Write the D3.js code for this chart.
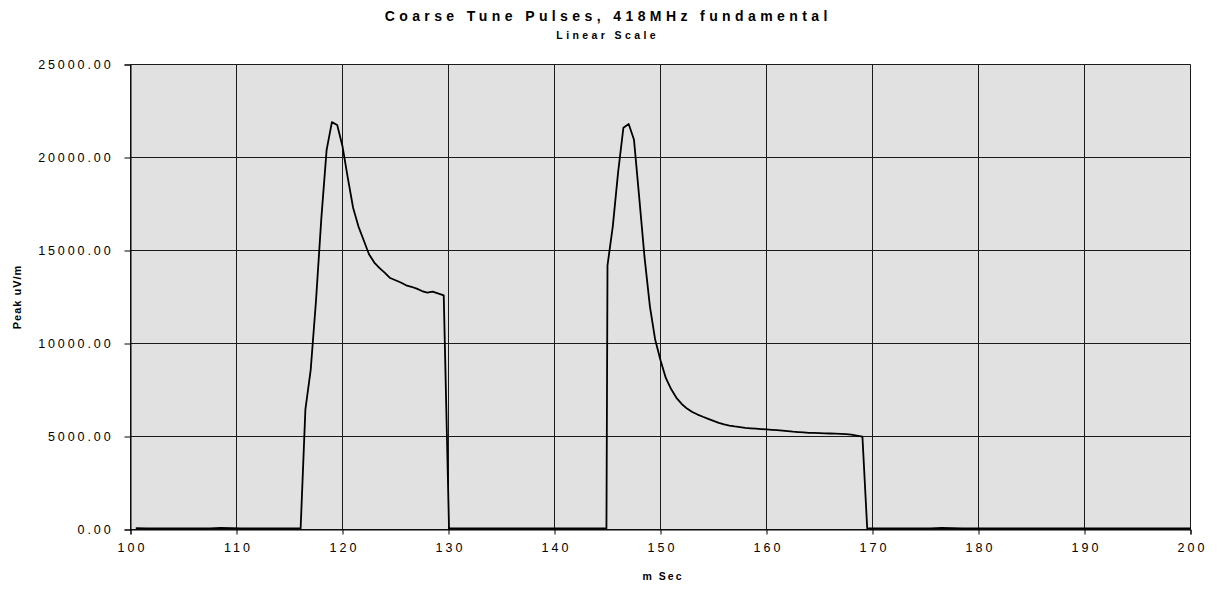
<!DOCTYPE html>
<html>
<head>
<meta charset="utf-8">
<script src="https://cdn.jsdelivr.net/npm/d3@7"></script>
<style>
  body { margin: 0; background: #fff; }
  text { font-family: Arial, "Liberation Sans", sans-serif; fill: #000; }
</style>
</head>
<body>
<div id="chart"></div>
<script>
// données (m Sec / Peak uV/m)
const calme1Temps = [100.5, 101.5, 102.5, 103.5, 104.5, 105.5, 106.5, 107.5, 108.5, 109.5, 110.5, 111.5, 112.5, 113.5, 114.5, 115.5, 116.05];
const calme1Valeurs = [70, 60, 65, 60, 65, 60, 65, 60, 90, 70, 60, 60, 65, 60, 60, 60, 60];

const pulse1Temps = [116.5, 117.0, 117.5, 118.0, 118.5, 119.0, 119.5, 120.0, 120.5, 121.0, 121.5, 122.0, 122.5, 123.0, 123.5, 124.0, 124.5, 125.0, 125.5, 126.0, 126.5, 127.0, 127.5, 128.0, 128.5, 129.0, 129.55];
const pulse1Valeurs = [6460, 8580, 12300, 16700, 20400, 21900, 21750, 20600, 18900, 17300, 16300, 15550, 14800, 14350, 14050, 13800, 13520, 13400, 13280, 13130, 13050, 12950, 12820, 12730, 12790, 12690, 12590];

const calme2Temps = [130.05, 131, 132, 133, 134, 135, 136, 137, 138, 139, 140, 141, 142, 143, 144, 144.9];
const calme2Valeurs = [60, 65, 60, 60, 65, 60, 60, 65, 60, 60, 65, 60, 60, 60, 60, 60];

const pulse2Temps = [145.0, 145.5, 146.0, 146.5, 147.0, 147.5, 148.0, 148.5, 149.0, 149.5, 150.0, 150.5, 151.0, 151.5, 152.0, 152.5, 153.0, 153.5, 154.0, 154.5, 155.0, 155.5, 156.0, 156.5, 157.0, 157.5, 158.0, 158.5, 159.0, 159.5, 160.0, 160.5, 161.0, 161.5, 162.0, 162.5, 163.0, 163.5, 164.0, 164.5, 165.0, 165.5, 166.0, 166.5, 167.0, 167.5, 168.0, 168.5, 169.05];
const pulse2Valeurs = [14200, 16300, 19200, 21600, 21800, 20950, 17800, 14600, 12000, 10200, 9100, 8150, 7550, 7080, 6750, 6500, 6320, 6180, 6060, 5950, 5840, 5730, 5650, 5590, 5540, 5500, 5460, 5440, 5420, 5400, 5380, 5360, 5340, 5320, 5290, 5260, 5240, 5220, 5200, 5190, 5180, 5170, 5160, 5150, 5140, 5130, 5100, 5050, 4990];

const calme3Temps = [169.5, 170.5, 171.5, 172.5, 173.5, 174.5, 175.5, 176.5, 177.5, 178.5, 179.5, 180.5, 181.5, 182.5, 183.5, 184.5, 185.5, 186.5, 187.5, 188.5, 189.5, 190.5, 191.5, 192.5, 193.5, 194.5, 195.5, 196.5, 197.5, 198.5, 199.5, 200];
const calme3Valeurs = [60, 65, 60, 60, 65, 60, 60, 85, 70, 60, 60, 65, 60, 60, 65, 60, 60, 60, 65, 60, 60, 65, 60, 60, 65, 60, 60, 65, 60, 60, 65, 60];

const ticksX = [100, 110, 120, 130, 140, 150, 160, 170, 180, 190, 200];
const ticksY = [0, 5000, 10000, 15000, 20000, 25000];

const titre = "Coarse Tune Pulses, 418MHz fundamental";
const sousTitre = "Linear Scale";
const titreX = "m Sec";
const titreY = "Peak uV/m";

// un seul tableau de points
const segments = [
  [calme1Temps, calme1Valeurs],
  [pulse1Temps, pulse1Valeurs],
  [calme2Temps, calme2Valeurs],
  [pulse2Temps, pulse2Valeurs],
  [calme3Temps, calme3Valeurs]
];
let datas = [];
segments.forEach(seg => {
  for (let i = 0; i < seg[0].length; i++) {
    datas.push({ t: seg[0][i], v: seg[1][i] });
  }
});

//marges
const W = 1217, H = 590;
var margin = { top: 64.5, right: 26.5, bottom: 60.5, left: 130.5 },
    width = 1060,
    height = 465;

const root = d3.select("#chart").append("svg")
    .attr("width", W)
    .attr("height", H);

const svg = root.append("g")
    .attr("transform", "translate(" + margin.left + "," + margin.top + ")");

var x = d3.scaleLinear().domain([100, 200]).range([0, width]);
var y = d3.scaleLinear().domain([0, 25000]).range([height, 0]);

// fond gris
svg.append("rect")
    .attr("width", width)
    .attr("height", height)
    .attr("fill", "#e1e1e1");

// grille
svg.append("g")
    .selectAll("line")
    .data(ticksY)
    .join("line")
    .attr("x1", 0).attr("x2", width)
    .attr("y1", d => y(d)).attr("y2", d => y(d))
    .attr("stroke", "#1a1a1a")
    .attr("stroke-width", 1);

svg.append("g")
    .selectAll("line")
    .data(ticksX)
    .join("line")
    .attr("y1", 0).attr("y2", height)
    .attr("x1", d => x(d)).attr("x2", d => x(d))
    .attr("stroke", "#1a1a1a")
    .attr("stroke-width", 1);

// Axe x
const axeX = svg.append("g")
    .attr("transform", "translate(0," + height + ")")
    .call(d3.axisBottom(x).tickValues(ticksX).tickSize(5).tickPadding(9).tickFormat(d3.format("d")));
axeX.select(".domain").attr("stroke", "#000");
axeX.selectAll("text")
    .attr("font-size", "12.5px")
    .attr("font-family", "Arial, 'Liberation Sans', sans-serif")
    .attr("dx", "1.5")
    .style("letter-spacing", "3px");

// Axe y
const axeY = svg.append("g")
    .call(d3.axisLeft(y).tickValues(ticksY).tickSize(6).tickPadding(14).tickFormat(d3.format(".2f")));
axeY.select(".domain").attr("stroke", "#000");
axeY.selectAll("text")
    .attr("font-size", "12.5px")
    .attr("font-family", "Arial, 'Liberation Sans', sans-serif")
    .attr("dx", "3")
    .style("letter-spacing", "2.9px");

// courbe
const ligne = d3.line()
    .x(d => x(d.t))
    .y(d => y(d.v));

svg.append("path")
    .datum(datas)
    .attr("d", ligne)
    .attr("fill", "none")
    .attr("stroke", "#000")
    .attr("stroke-width", 1.8)
    .attr("stroke-linejoin", "round");

// titres
root.append("text")
    .attr("x", 606 + 2.2)
    .attr("y", 21)
    .attr("text-anchor", "middle")
    .attr("font-size", "14px")
    .attr("font-weight", "bold")
    .style("letter-spacing", "4.4px")
    .text(titre);

root.append("text")
    .attr("x", 606 + 1.7)
    .attr("y", 39)
    .attr("text-anchor", "middle")
    .attr("font-size", "10.5px")
    .attr("font-weight", "bold")
    .style("letter-spacing", "3.4px")
    .text(sousTitre);

root.append("text")
    .attr("x", 662 + 1)
    .attr("y", 580)
    .attr("text-anchor", "middle")
    .attr("font-size", "10.5px")
    .attr("font-weight", "bold")
    .style("letter-spacing", "2px")
    .text(titreX);

root.append("text")
    .attr("transform", "translate(21,297) rotate(-90)")
    .attr("text-anchor", "middle")
    .attr("font-size", "11px")
    .attr("font-weight", "bold")
    .style("letter-spacing", "1px")
    .text(titreY);
</script>
</body>
</html>
